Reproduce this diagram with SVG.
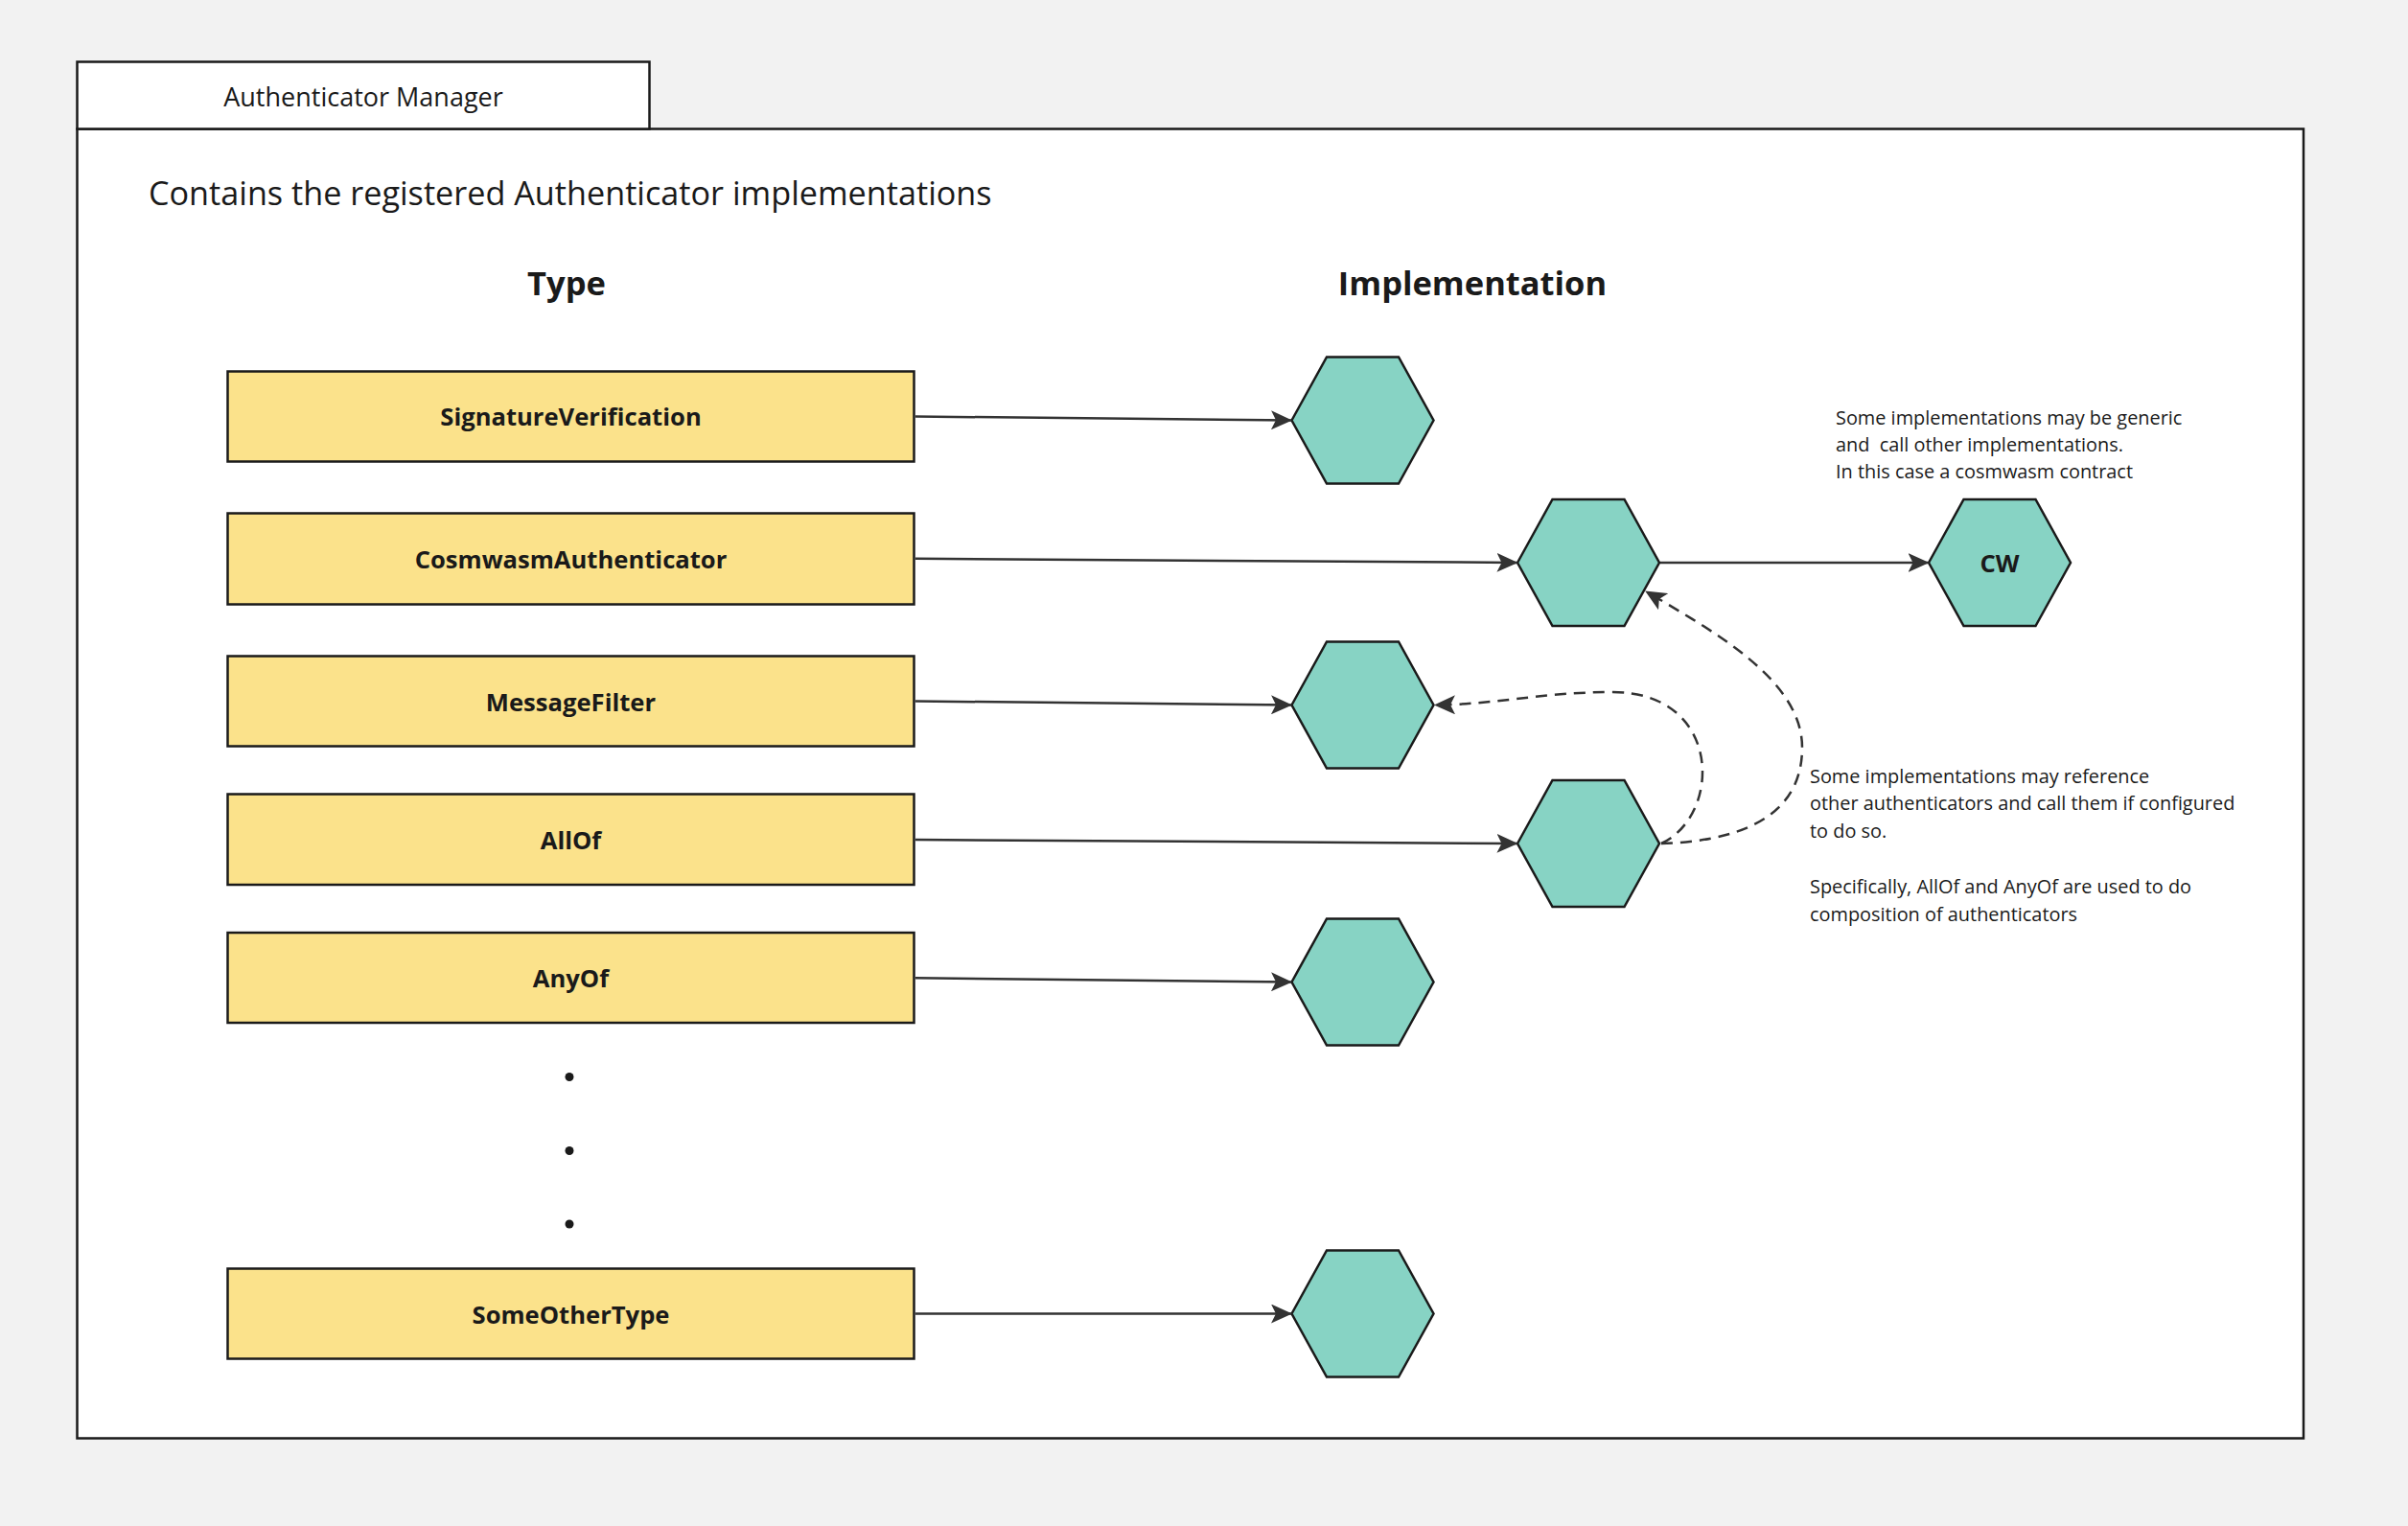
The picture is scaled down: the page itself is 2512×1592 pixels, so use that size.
<svg xmlns="http://www.w3.org/2000/svg" width="2512" height="1592" viewBox="0 0 2512 1592">
  <style>
    .frame { fill: #ffffff; stroke: #1a1a1a; stroke-width: 2.5; }
    .box { fill: #fbe28b; stroke: #1a1a1a; stroke-width: 2.5; }
    .hex { fill: #87d3c4; stroke: #1a1a1a; stroke-width: 2.5; stroke-linejoin: miter; }
    .lbl { font-family: "Open Sans", "Liberation Sans", sans-serif; font-weight: 700; font-size: 25.6px; fill: #1a1a1a; text-anchor: middle; }
    .hdr { font-family: "Open Sans", "Liberation Sans", sans-serif; font-weight: 700; font-size: 34.5px; fill: #1a1a1a; text-anchor: middle; }
    .txt { font-family: "Open Sans", "Liberation Sans", sans-serif; fill: #1a1a1a; white-space: pre; }
    .note { font-family: "Open Sans", "Liberation Sans", sans-serif; font-size: 19.9px; fill: #1a1a1a; white-space: pre; }
    .conn { fill: none; stroke: #333333; stroke-width: 2.5; }
    .dash { stroke-dasharray: 12 8; }
  </style>
  <defs>
    <marker id="arr" markerUnits="userSpaceOnUse" viewBox="0 0 22 20" markerWidth="22" markerHeight="20" refX="21" refY="10" orient="auto">
      <path d="M0,0 L22,10 L0,20 L5,10 Z" fill="#333333" stroke="none"/>
    </marker>
  </defs>

  <rect x="0" y="0" width="2512" height="1592" fill="#f2f2f2"/>

  <g id="authenticator-manager">
    <rect class="frame" x="80.5" y="134.5" width="2322.5" height="1366"/>
    <rect class="frame" x="80.5" y="64.5" width="597" height="70"/>
    <text class="txt" x="379" y="110.5" font-size="27" text-anchor="middle">Authenticator Manager</text>
    <text class="txt" x="155" y="214" font-size="34.2">Contains the registered Authenticator implementations</text>
    <text class="hdr" x="591" y="307.5">Type</text>
    <text class="hdr" x="1536" y="307.5">Implementation</text>
  </g>

  <g id="type-signatureverification">
    <rect class="box" x="237.5" y="387.5" width="716" height="94"/>
    <text class="lbl" x="595.5" y="444">SignatureVerification</text>
  </g>
  <g id="type-cosmwasmauthenticator">
    <rect class="box" x="237.5" y="535.5" width="716" height="95"/>
    <text class="lbl" x="595.5" y="593">CosmwasmAuthenticator</text>
  </g>
  <g id="type-messagefilter">
    <rect class="box" x="237.5" y="684.5" width="716" height="94"/>
    <text class="lbl" x="595.5" y="741.5">MessageFilter</text>
  </g>
  <g id="type-allof">
    <rect class="box" x="237.5" y="828.5" width="716" height="94.5"/>
    <text class="lbl" x="595.5" y="885.5">AllOf</text>
  </g>
  <g id="type-anyof">
    <rect class="box" x="237.5" y="973" width="716" height="94"/>
    <text class="lbl" x="595.5" y="1030">AnyOf</text>
  </g>
  <g id="ellipsis">
    <circle cx="594" cy="1123.5" r="4.5" fill="#1a1a1a"/>
    <circle cx="594" cy="1200.5" r="4.5" fill="#1a1a1a"/>
    <circle cx="594" cy="1277" r="4.5" fill="#1a1a1a"/>
  </g>
  <g id="type-someothertype">
    <rect class="box" x="237.5" y="1323.5" width="716" height="94"/>
    <text class="lbl" x="595.5" y="1380.5">SomeOtherType</text>
  </g>

  <g id="impl-signatureverification">
    <polygon class="hex" points="1347.5,438.5 1384,372.5 1459,372.5 1495.5,438.5 1459,504.5 1384,504.5"/>
  </g>
  <g id="impl-cosmwasmauthenticator">
    <polygon class="hex" points="1583,587 1619.5,521 1694.5,521 1731,587 1694.5,653 1619.5,653"/>
  </g>
  <g id="impl-cw">
    <polygon class="hex" points="2012,587 2048.5,521 2123.5,521 2160,587 2123.5,653 2048.5,653"/>
    <text class="lbl" x="2086" y="596.5">CW</text>
  </g>
  <g id="impl-messagefilter">
    <polygon class="hex" points="1347.5,735.5 1384,669.5 1459,669.5 1495.5,735.5 1459,801.5 1384,801.5"/>
  </g>
  <g id="impl-allof">
    <polygon class="hex" points="1583,880 1619.5,814 1694.5,814 1731,880 1694.5,946 1619.5,946"/>
  </g>
  <g id="impl-anyof">
    <polygon class="hex" points="1347.5,1024.5 1384,958.5 1459,958.5 1495.5,1024.5 1459,1090.5 1384,1090.5"/>
  </g>
  <g id="impl-someothertype">
    <polygon class="hex" points="1347.5,1370.5 1384,1304.5 1459,1304.5 1495.5,1370.5 1459,1436.5 1384,1436.5"/>
  </g>

  <g id="connectors">
    <path class="conn" d="M955,434.5 L1347,438.5" marker-end="url(#arr)"/>
    <path class="conn" d="M955,582.8 L1582.5,587" marker-end="url(#arr)"/>
    <path class="conn" d="M1732,587 L2011.5,587" marker-end="url(#arr)"/>
    <path class="conn" d="M955,731.5 L1347,735.5" marker-end="url(#arr)"/>
    <path class="conn" d="M955,876 L1582.5,880" marker-end="url(#arr)"/>
    <path class="conn" d="M955,1020.3 L1347,1024.5" marker-end="url(#arr)"/>
    <path class="conn" d="M955,1370.5 L1347,1370.5" marker-end="url(#arr)"/>
    <path class="conn dash" d="M1733,880 C1797,850 1797,722 1682,722 C1610,722 1560,735 1497,735.5" marker-end="url(#arr)"/>
    <path class="conn dash" d="M1733,880 C1800,878 1880,860 1880,780 C1880,710 1790,660 1717,617" marker-end="url(#arr)"/>
  </g>

  <g id="note-generic">
    <text class="note" x="1915" y="443">Some implementations may be generic</text>
    <text class="note" x="1915" y="471.2">and  call other implementations.</text>
    <text class="note" x="1915" y="499.4">In this case a cosmwasm contract</text>
  </g>
  <g id="note-reference">
    <text class="note" x="1888" y="816.5">Some implementations may reference</text>
    <text class="note" x="1888" y="845.4">other authenticators and call them if configured</text>
    <text class="note" x="1888" y="874.3">to do so.</text>
    <text class="note" x="1888" y="932.1">Specifically, AllOf and AnyOf are used to do</text>
    <text class="note" x="1888" y="961">composition of authenticators</text>
  </g>
</svg>
